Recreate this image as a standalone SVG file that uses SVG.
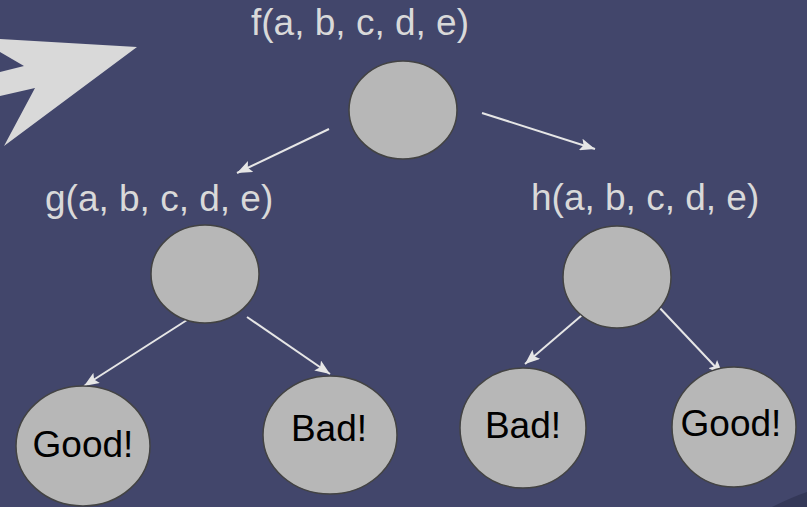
<svg xmlns="http://www.w3.org/2000/svg" width="807" height="507" viewBox="0 0 807 507">
  <style>
    .node { fill: #b7b7b7; stroke: #434343; stroke-width: 1.5; }
    .fn { font-family: "Liberation Sans", Arial, sans-serif; font-size: 37px; fill: #d9d9d9; }
    .leaf { font-family: "Liberation Sans", Arial, sans-serif; font-size: 37px; fill: #000000; text-anchor: middle; }
    .edge { stroke: #e6e6e6; stroke-width: 2; fill: none; marker-end: url(#head); }
  </style>
  <defs>
    <marker id="head" markerUnits="userSpaceOnUse" markerWidth="16" markerHeight="12" viewBox="0 0 16 12" refX="15" refY="6" orient="auto">
      <path d="M0,0 L15,6 L0,12 L3,6 Z" fill="#e6e6e6"/>
    </marker>
  </defs>

  <rect width="807" height="507" fill="#42466b"/>

  <!-- big pointer arrow, top left -->
  <polygon points="0,39 137,47 4,146 35,88 0,96 0,72 24,66 0,52" fill="#d9d9d9"/>

  <!-- page curl in the bottom-right corner -->
  <path d="M772,507 Q792,497 807,492 L807,507 Z" fill="#343858"/>

  <g id="connectors">
    <line class="edge" x1="329" y1="129" x2="237" y2="173"/>
    <line class="edge" x1="482" y1="113" x2="595" y2="149"/>
    <line class="edge" x1="187" y1="320" x2="84" y2="386"/>
    <line class="edge" x1="247" y1="317" x2="330" y2="374"/>
    <line class="edge" x1="588" y1="310" x2="525" y2="364"/>
    <line class="edge" x1="657" y1="305" x2="723" y2="375"/>
  </g>

  <g id="node-f">
    <text class="fn" x="251" y="35">f(a, b, c, d, e)</text>
    <ellipse class="node" cx="403" cy="110" rx="54" ry="49"/>
  </g>

  <g id="node-g">
    <text class="fn" x="45" y="211">g(a, b, c, d, e)</text>
    <ellipse class="node" cx="205" cy="274" rx="54" ry="49"/>
  </g>

  <g id="node-h">
    <text class="fn" x="531" y="210">h(a, b, c, d, e)</text>
    <ellipse class="node" cx="617" cy="277" rx="54" ry="51"/>
  </g>

  <g id="leaf-g-good">
    <ellipse class="node" cx="83" cy="446" rx="67" ry="60"/>
    <text class="leaf" x="83" y="457">Good!</text>
  </g>

  <g id="leaf-g-bad">
    <ellipse class="node" cx="330" cy="435" rx="67" ry="59"/>
    <text class="leaf" x="329" y="441">Bad!</text>
  </g>

  <g id="leaf-h-bad">
    <ellipse class="node" cx="523" cy="428" rx="63" ry="60"/>
    <text class="leaf" x="523" y="438">Bad!</text>
  </g>

  <g id="leaf-h-good">
    <ellipse class="node" cx="734" cy="427" rx="62" ry="60"/>
    <text class="leaf" x="731" y="436">Good!</text>
  </g>
</svg>
